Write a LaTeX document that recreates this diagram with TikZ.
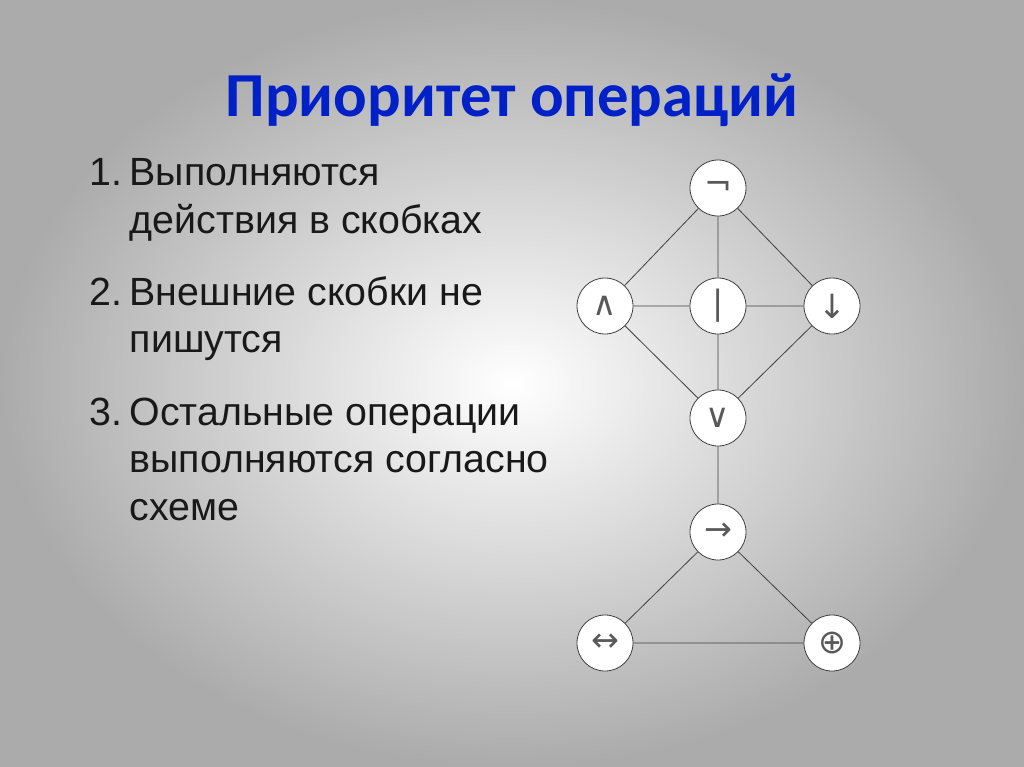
\documentclass[tikz,border=0pt]{standalone}
\usepackage{fontspec}
\setmainfont{Liberation Sans}
\newfontfamily\titlefont{Carlito}
\newfontfamily\symfont{DejaVu Sans}
\begin{document}
\begin{tikzpicture}[x=0.75pt,y=-0.75pt,
  op/.style={circle,draw=black!75,line width=0.6pt,fill=white,minimum size=42pt,inner sep=0pt,font=\symfont\fontsize{25}{25}\selectfont\color{black!65}},
  ln/.style={draw=black!75,line width=0.6pt},
  item/.style={anchor=base west,font=\fontsize{29.5}{29.5}\selectfont,text=black!90}]
\shade[inner color=white,outer color=black!33] (0,0) rectangle (1024,767);
\useasboundingbox (0,0) rectangle (1024,767);
\node[font=\titlefont\bfseries\fontsize{47}{47}\selectfont,text={rgb,255:red,0;green,32;blue,200}] (title) at (512,100) {Приоритет операций};
\node[item] (n1) at (85,185) {1.};
\node[item] (t1a) at (125,185) {Выполняются};
\node[item] (t1b) at (125,233) {действия в скобках};
\node[item] (n2) at (85,305) {2.};
\node[item] (t2a) at (125,305) {Внешние скобки не};
\node[item] (t2b) at (125,352) {пишутся};
\node[item] (n3) at (85,425) {3.};
\node[item] (t3a) at (125,425) {Остальные операции};
\node[item] (t3b) at (125,472) {выполняются согласно};
\node[item] (t3c) at (125,520) {схеме};
\node[op] (neg) at (718,188) {¬};
\node[op] (and) at (605,306) {∧};
\node[op] (bar) at (718,306) {|};
\node[op] (nor) at (832,306) {↓};
\node[op] (or) at (718,418) {∨};
\node[op] (imp) at (718,532) {→};
\node[op] (eqv) at (605,643) {↔};
\node[op] (xor) at (832,643) {⊕};
\draw[ln] (neg)--(and) (neg)--(nor) (neg)--(bar) (and)--(bar) (bar)--(nor)
  (and)--(or) (nor)--(or) (bar)--(or) (or)--(imp) (imp)--(eqv) (imp)--(xor) (eqv)--(xor);
\end{tikzpicture}
\end{document}
